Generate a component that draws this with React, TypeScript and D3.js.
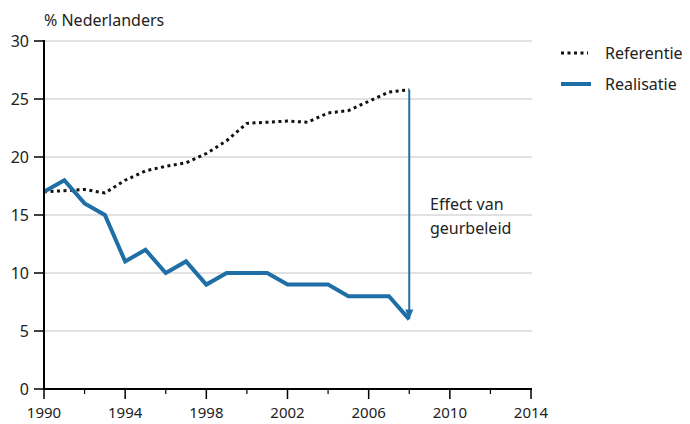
import React from "react";
import * as d3 from "d3";

const years = [1990, 1991, 1992, 1993, 1994, 1995, 1996, 1997, 1998, 1999, 2000, 2001, 2002, 2003, 2004, 2005, 2006, 2007, 2008];
const referentie = [17.0, 17.1, 17.2, 16.9, 18.0, 18.8, 19.2, 19.5, 20.3, 21.4, 22.9, 23.0, 23.1, 23.0, 23.8, 24.0, 24.8, 25.6, 25.8];
const realisatie = [17, 18, 16, 15, 11, 12, 10, 11, 9, 10, 10, 10, 9, 9, 9, 8, 8, 8, 6];
const yTicks = [0, 5, 10, 15, 20, 25, 30];
const xMajorTicks = [1990, 1994, 1998, 2002, 2006, 2010, 2014];
const xMinorTicks = [1992, 1996, 2000, 2004, 2008, 2012];
const seriesNames = ["Referentie", "Realisatie"];
const yTitle = "% Nederlanders";
const annotation = ["Effect van", "geurbeleid"];

const W = 690, H = 424;
const blue = "#1f6fa6";
const font = "'Noto Sans', 'Open Sans', sans-serif";

export default function App() {
  const x = d3.scaleLinear().domain([1990, 2014]).range([44, 531]);
  const y = d3.scaleLinear().domain([0, 30]).range([389, 41]);
  const line = d3.line<number>().x((_, i) => x(years[i])).y((d) => y(d));
  const lastYear = years[years.length - 1];
  const ax = x(lastYear);
  const yTop = y(referentie[referentie.length - 1]);
  const yBot = y(realisatie[realisatie.length - 1]);

  return (
    <svg width={W} height={H} style={{ position: "absolute", left: 0, top: 0, background: "#fff" }} fontFamily={font}>
      {yTicks.filter((t) => t > 0).map((t) => (
        <line key={"g" + t} x1={x(1990)} x2={x(2014) + 1} y1={y(t)} y2={y(t)} stroke="#c4c4c4" strokeWidth={1} />
      ))}
      <path d={line(referentie) || ""} fill="none" stroke="#111" strokeWidth={3} strokeDasharray="3,3.5" />
      <path d={line(realisatie) || ""} fill="none" stroke={blue} strokeWidth={4} strokeLinejoin="miter" />
      {/* arrow */}
      <line x1={ax} x2={ax} y1={yTop} y2={yBot - 6} stroke={blue} strokeWidth={2} />
      <path d={`M${ax - 4},${yBot - 10} L${ax + 4},${yBot - 10} L${ax},${yBot} Z`} fill={blue} />
      {/* axes */}
      <line x1={x(1990)} x2={x(1990)} y1={y(30) - 1} y2={y(0) + 1} stroke="#000" strokeWidth={2} />
      <line x1={x(1990) - 1} x2={x(2014) + 1} y1={y(0)} y2={y(0)} stroke="#000" strokeWidth={2} />
      {yTicks.map((t) => (
        <g key={"y" + t}>
          <line x1={x(1990) - 10} x2={x(1990)} y1={y(t)} y2={y(t)} stroke="#000" strokeWidth={1.5} />
          <text x={29} y={y(t)} dy="0.35em" textAnchor="end" fontSize={16} fill="#222">{t}</text>
        </g>
      ))}
      {xMajorTicks.map((t) => (
        <g key={"x" + t}>
          <line x1={x(t)} x2={x(t)} y1={y(0)} y2={y(0) + 10} stroke="#000" strokeWidth={1.5} />
          <text x={x(t)} y={418} textAnchor="middle" fontSize={15} fill="#222">{t}</text>
        </g>
      ))}
      {xMinorTicks.map((t) => (
        <line key={"m" + t} x1={x(t)} x2={x(t)} y1={y(0)} y2={y(0) + 5} stroke="#000" strokeWidth={1.2} />
      ))}
      <text x={44} y={26} fontSize={16} fill="#222">{yTitle}</text>
      <text fontSize={16} fill="#222">
        <tspan x={430} y={210}>{annotation[0]}</tspan>
        <tspan x={430} y={234}>{annotation[1]}</tspan>
      </text>
      {/* legend */}
      <line x1={561} x2={588} y1={53} y2={53} stroke="#111" strokeWidth={3} strokeDasharray="3,3.5" />
      <text x={605} y={59} fontSize={16} fill="#222">{seriesNames[0]}</text>
      <line x1={561} x2={591} y1={84} y2={84} stroke={blue} strokeWidth={4} />
      <text x={605} y={90} fontSize={16} fill="#222">{seriesNames[1]}</text>
    </svg>
  );
}
